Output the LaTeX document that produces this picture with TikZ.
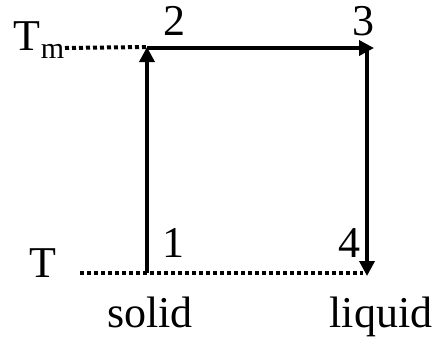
\documentclass[tikz,border=0pt]{standalone}
\usepackage{fontspec}
\setmainfont{Liberation Serif}
\usetikzlibrary{arrows.meta}
\begin{document}
\begin{tikzpicture}[x=1pt,y=-1pt,
  solidarrow/.style={line width=3.5pt,-{Triangle[length=15pt,width=15pt]}},
  dotline/.style={line width=4pt,dash pattern=on 4pt off 3pt},
  lbl/.style={font=\fontsize{44}{44}\selectfont,inner sep=0pt,anchor=base}]
\useasboundingbox (0,0) rectangle (439,341);
\coordinate (p1) at (147,273);
\coordinate (p2) at (147,47);
\coordinate (p3) at (367,48);
\coordinate (p3tip) at (374,48);
\coordinate (p4) at (367,276);
\coordinate (tmstart) at (65,48);
\coordinate (tstart) at (80,273);
\coordinate (tend) at (363,273);
\draw[dotline] (tmstart) -- (p2);
\draw[dotline] (tstart) -- (tend);
\draw[solidarrow] (p1) -- (p2);
\draw[solidarrow] (p2|-p3) -- (p3tip);
\draw[solidarrow] (p3) -- (p4);
\node[lbl] (tm) at (27,50) {T};
\node[font=\fontsize{30}{30}\selectfont,inner sep=0pt,anchor=base west] (tmsub) at ([xshift=0pt,yshift=-8pt]tm.base east) {m};
\node[lbl] (t) at (43,277) {T};
\node[lbl] (n2) at (174,35) {2};
\node[lbl] (n3) at (363,35) {3};
\node[lbl] (n1) at (173,257) {1};
\node[lbl] (n4) at (349,257) {4};
\node[lbl] (solid) at (150,327) {solid};
\node[lbl] (liquid) at (381,327) {liquid};
\end{tikzpicture}
\end{document}
